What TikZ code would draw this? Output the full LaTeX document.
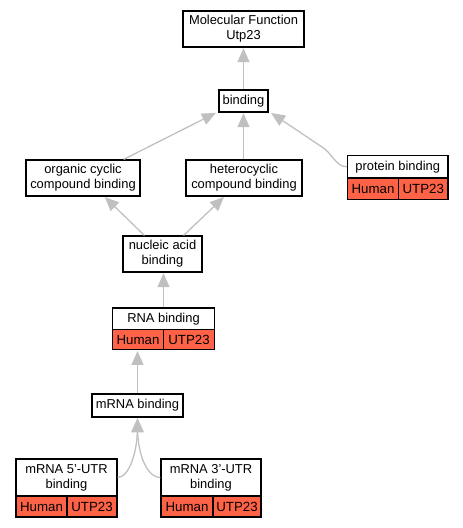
\documentclass[tikz,border=0pt]{standalone}
\usepackage{fontspec}
\setmainfont{Liberation Sans}
\usetikzlibrary{arrows.meta}
\definecolor{edgegray}{HTML}{C0C0C0}
\definecolor{cellred}{HTML}{FF6347}
\begin{document}
\begin{tikzpicture}[x=1pt,y=-1pt,
  box/.style={draw=black, line width=1.2pt, fill=white, inner sep=0pt, align=center,
    font=\fontsize{12.9}{15}\selectfont},
  cell/.style={draw=black, line width=1.2pt, fill=cellred, inner sep=0pt, align=center,
    font=\fontsize{13.3}{15}\selectfont},
  edge/.style={draw=edgegray, line width=1.3pt, -{Triangle[length=14pt,width=12pt]}, shorten >=0.6pt}]
\useasboundingbox (0,0) rectangle (463,528);
% nodes
\node[box, minimum width=121, minimum height=36] (mf) at (243.5,29) {Molecular Function\\Utp23};
\node[box, minimum width=49, minimum height=22] (bind) at (243.5,101) {binding};
\node[box, minimum width=114, minimum height=36] (org) at (83,178) {organic cyclic\\compound binding};
\node[box, minimum width=116, minimum height=36] (het) at (244,178) {heterocyclic\\compound binding};
\node[box, minimum width=100.5, minimum height=22.5] (pb) at (397.75,166.75) {protein binding};
\node[cell, minimum width=51, minimum height=21.5] (pbh) at (373,189) {Human};
\node[cell, minimum width=49.5, minimum height=21.5] (pbu) at (423.25,189) {UTP23};
\node[box, minimum width=79, minimum height=36] (nuc) at (162.5,254) {nucleic acid\\binding};
\node[box, minimum width=102, minimum height=21.5] (rna) at (163.5,318.75) {RNA binding};
\node[cell, minimum width=51, minimum height=20.5] (rnah) at (138,339.5) {Human};
\node[cell, minimum width=51, minimum height=20.5] (rnau) at (189,339.5) {UTP23};
\node[box, minimum width=91, minimum height=23] (mrna) at (137.5,405.5) {mRNA binding};
\node[box, minimum width=101, minimum height=37] (u5) at (66.5,477.5) {mRNA 5'-UTR\\binding};
\node[cell, minimum width=51, minimum height=21] (u5h) at (41.5,506.5) {Human};
\node[cell, minimum width=50, minimum height=21] (u5u) at (92,506.5) {UTP23};
\node[box, minimum width=100, minimum height=37] (u3) at (211,477.5) {mRNA 3'-UTR\\binding};
\node[cell, minimum width=52, minimum height=21] (u3h) at (187,506.5) {Human};
\node[cell, minimum width=48, minimum height=21] (u3u) at (237,506.5) {UTP23};
% helper coordinates
\coordinate (pbbend) at (322,147);
% edges
\draw[edge] (bind.north) -- (mf.south);
\draw[edge] ([xshift=-17pt]org.north east) -- ([xshift=-2pt]bind.south west);
\draw[edge] (het.north -| bind.south) -- (bind.south);
\draw[edge] (pb.west) .. controls (336,167) and (332,153) .. (pbbend) -- ([xshift=2pt]bind.south east);
\draw[edge] ([xshift=22pt]nuc.north west) -- ([xshift=79pt]org.south west);
\draw[edge] ([xshift=-19pt]nuc.north east) -- ([xshift=39pt]het.south west);
\draw[edge] (rna.north) -- (rna.north |- nuc.south);
\draw[edge] (mrna.north) -- (mrna.north |- rnah.south);
\draw[edge] (u5.east) .. controls (130,477) and (137,450) .. (mrna.south);
\draw[edge] (u3.west) .. controls (145,477) and (138,450) .. (mrna.south);
\end{tikzpicture}
\end{document}
